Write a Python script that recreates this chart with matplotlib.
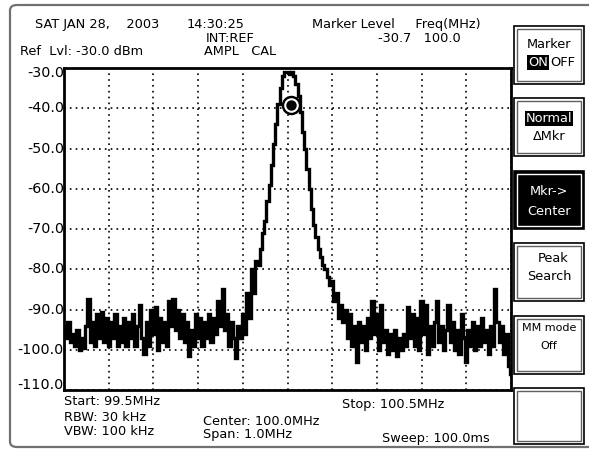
import numpy as np
import matplotlib
matplotlib.use("Agg")
import matplotlib.pyplot as plt
from matplotlib.patches import Rectangle, FancyBboxPatch

# === Data ===
start_mhz = 99.5
stop_mhz = 100.5
ref_level = -30.0
bottom_level = -110.0
level_ticks = [-30.0, -40.0, -50.0, -60.0, -70.0, -80.0, -90.0, -100.0, -110.0]

# trace levels (dBm), 201 points evenly spread across the span
trace_dbm = [
    -94, -97, -93, -98, -96, -99, -95, -100, -97, -99.5,
    -94, -87.5, -98, -93, -99, -91, -97, -90.5, -98, -92,
    -99, -93, -97, -91, -99, -94, -98, -92, -99, -93,
    -97, -91, -99, -94, -89, -97, -101, -93, -99, -90,
    -96, -89.5, -100, -92, -98, -93, -99, -88, -94, -87.5,
    -95, -90, -97, -91, -98, -93, -101.5, -95, -99, -91,
    -97, -92, -99, -93, -97, -91, -98, -92, -96, -88,
    -94, -85, -95, -91, -99, -93, -97, -102, -94, -97,
    -91, -96, -86, -92, -80, -86, -78, -79, -75, -71,
    -68, -63, -59, -54, -49, -44, -39, -35, -32, -31,
    -31, -31.5, -31, -32, -34, -37, -41, -46, -50, -55,
    -60, -65, -69, -72, -75, -77, -79, -80, -82, -84,
    -83, -88, -86, -92, -89, -93, -90, -97, -91, -99,
    -94, -103, -93, -98, -94, -100, -92, -97, -88, -96,
    -91, -100, -89, -98, -95, -101, -96, -100, -95, -101.5,
    -97, -100, -96, -99, -89.5, -97, -91, -99, -92, -100,
    -88, -96, -89, -101, -94, -99, -93, -88, -98, -94,
    -100, -95, -89, -98, -93, -100, -95, -101, -91, -97,
    -103, -95, -99, -93, -100, -94, -99, -92, -98, -95,
    -101, -94, -99, -85, -93, -98, -94, -101, -96, -104,
    -106,
]
trace_mhz = np.linspace(start_mhz, stop_mhz, len(trace_dbm))

marker_mhz = 100.007
marker_dbm = -39.2

W, H = 589, 450
fig = plt.figure(figsize=(W / 100, H / 100), dpi=100)
fig.patch.set_facecolor("white")


def fx(x):
    return x / W


def fy(y):
    return 1 - y / H


def label(x, y, s, **kw):
    kw.setdefault("fontsize", 9.3)
    kw.setdefault("va", "baseline")
    fig.text(fx(x), fy(y), s, **kw)


# outer rounded screen border
fig.patches.append(FancyBboxPatch((fx(10), fy(447)), fx(620) - fx(10), fy(5) - fy(447),
                                  boxstyle="round,pad=0,rounding_size=0.012",
                                  transform=fig.transFigure, fill=False,
                                  edgecolor="#707070", lw=1.6, zorder=0))

# === plot area ===
ax = fig.add_axes([fx(64), fy(390), fx(511) - fx(64), fy(68) - fy(390)])
ax.plot(trace_mhz, trace_dbm, color="black", lw=2.4, drawstyle="steps-mid",
        solid_joinstyle="miter")
ax.set_xlim(start_mhz, stop_mhz)
ax.set_ylim(bottom_level, ref_level)
ax.set_xticks(np.linspace(start_mhz, stop_mhz, 11))
ax.set_yticks(level_ticks)
ax.grid(True, color="black", linestyle=(0, (1, 2.5)), lw=1.2)
ax.tick_params(length=0, labelbottom=False, labelleft=False)
for sp in ax.spines.values():
    sp.set_linewidth(2.0)

# marker
ax.plot(marker_mhz, marker_dbm, "o", ms=13, color="black", zorder=5)
ax.plot(marker_mhz, marker_dbm, "o", ms=9.5, color="white", zorder=6)
ax.plot(marker_mhz, marker_dbm, "o", ms=6.5, color="black", zorder=7)

# level labels on the left
for lv in level_ticks:
    y = 68 + (ref_level - lv) / (ref_level - bottom_level) * (390 - 68)
    if lv == ref_level:
        y += 5
    elif lv == bottom_level:
        y -= 5
    label(64, y, f"{lv:.1f}", ha="right", va="center", fontsize=10.3)

# header texts
label(35, 28, "SAT JAN 28,    2003")
label(187, 28, "14:30:25")
label(206, 42, "INT:REF")
label(20, 55, "Ref  Lvl: -30.0 dBm")
label(204, 55, "AMPL   CAL")
label(312, 28, "Marker Level     Freq(MHz)")
label(378, 42, "-30.7   100.0")

# footer texts
label(64, 405, "Start: 99.5MHz")
label(64, 421, "RBW: 30 kHz")
label(64, 435, "VBW: 100 kHz")
label(203, 425, "Center: 100.0MHz")
label(203, 438, "Span: 1.0MHz")
label(342, 408, "Stop: 100.5MHz")
label(382, 442, "Sweep: 100.0ms")


# === soft keys ===
def key(top, filled=False, height=58):
    l, r = 514, 584
    fig.patches.append(Rectangle((fx(l), fy(top + height)), fx(r) - fx(l), fy(top) - fy(top + height),
                                 transform=fig.transFigure, fill=filled,
                                 facecolor="black", edgecolor="black", lw=1.2))
    fig.patches.append(Rectangle((fx(l + 3), fy(top + height - 3)), fx(r - 3) - fx(l + 3),
                                 fy(top + 3) - fy(top + height - 3),
                                 transform=fig.transFigure, fill=False,
                                 edgecolor="#606060" if not filled else "white", lw=1.0))


key(26)
label(549, 48, "Marker", ha="center")
label(528, 66, "ON", color="white", bbox=dict(facecolor="black", edgecolor="none", pad=0.6))
label(550, 66, "OFF")

key(98)
label(549, 122, "Normal", ha="center", color="white",
      bbox=dict(facecolor="black", edgecolor="none", pad=0.6))
label(549, 140, "\u0394Mkr", ha="center")

key(171, filled=True)
label(549, 195, "Mkr->", ha="center", color="white")
label(549, 215, "Center", ha="center", color="white")

key(243)
label(553, 262, "Peak", ha="center")
label(549, 280, "Search", ha="center")

key(316)
label(549, 331, "MM mode", ha="center", fontsize=8,
      family=["Liberation Sans Narrow", "DejaVu Sans"])
label(549, 349, "Off", ha="center", fontsize=8,
      family=["Liberation Sans Narrow", "DejaVu Sans"])

key(388, height=56)

fig.savefig("out.png", dpi=100)
